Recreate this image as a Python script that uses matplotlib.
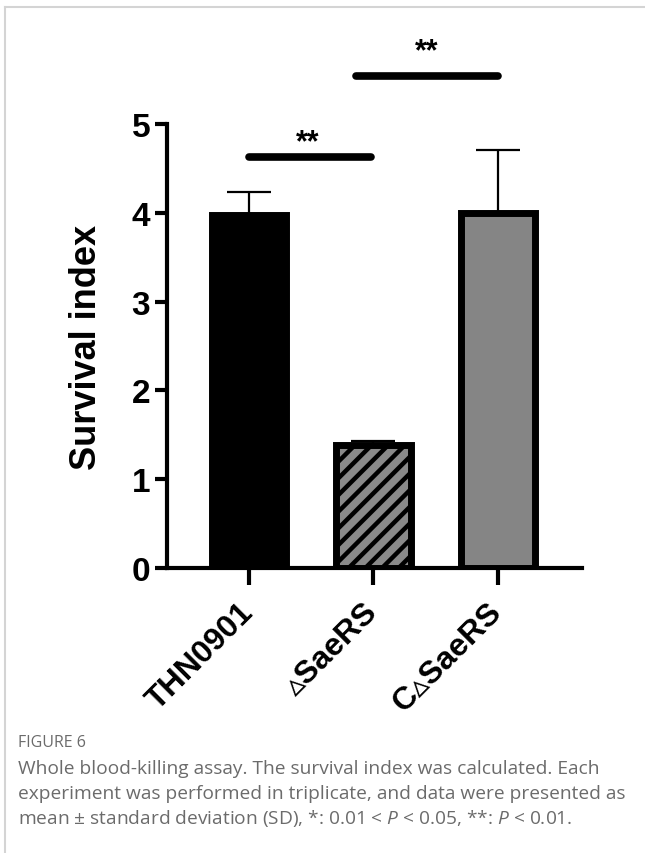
"""
Whole blood-killing assay: survival index bar chart with caption.
"""

import matplotlib
matplotlib.use('Agg')
import matplotlib.pyplot as plt
from matplotlib.lines import Line2D


strains = ['THN0901', '▵SaeRS', 'C▵SaeRS']
survival = [3.97, 1.39, 4.00]
survival_sd = [0.26, 0.04, 0.71]
fill_colors = ['black', '#8a8a8a', '#858585']
hatches = ['', '//', '']

# significance brackets
sig_x0 = [0.0, 0.86]
sig_x1 = [0.98, 2.0]
sig_y = [4.63, 5.54]
star_x = [0.47, 1.43]
star_y = [4.80, 5.82]
sig_text = ['**', '**']

caption_head = 'FIGURE 6'
caption_lines = [
    'Whole blood-killing assay. The survival index was calculated. Each',
    'experiment was performed in triplicate, and data were presented as',
    'mean ± standard deviation (SD), *: 0.01 < $P$ < 0.05, **: $P$ < 0.01.',
]

plt.rcParams['font.family'] = ['Liberation Sans', 'DejaVu Sans']
plt.rcParams['hatch.linewidth'] = 3.2
plt.rcParams['mathtext.fontset'] = 'custom'
plt.rcParams['mathtext.it'] = 'Open Sans:italic'
plt.rcParams['mathtext.rm'] = 'Open Sans'

fig = plt.figure(figsize=(6.45, 8.54), dpi=100)
ax = fig.add_axes([0.2589, 0.3337, 0.6434, 0.5199])

x = list(range(len(strains)))
ax.errorbar(x, survival, yerr=[[0] * len(x), survival_sd], fmt='none',
            ecolor='black', elinewidth=1.6, capsize=16, capthick=1.6, zorder=1)
for i in x:
    ax.bar(i, survival[i], width=0.6, color=fill_colors[i], edgecolor='black',
           linewidth=5, hatch=hatches[i], zorder=2)

for x0, x1, y in zip(sig_x0, sig_x1, sig_y):
    ax.plot([x0, x1], [y, y], color='black', lw=5.5, solid_capstyle='round', clip_on=False)
for sx, sy, t in zip(star_x, star_y, sig_text):
    ax.text(sx, sy, t, ha='center', va='center', fontsize=22, fontweight='bold', clip_on=False)

ax.set_xlim(-0.659, 2.675)
ax.set_ylim(0, 5)
ax.set_yticks([0, 1, 2, 3, 4, 5])
ax.set_xticks(x)
ax.set_xticklabels(strains, rotation=45, ha='right', va='center', rotation_mode='anchor',
                   fontsize=23, fontweight='bold')
for lbl in ax.get_yticklabels():
    lbl.set_fontsize(24)
    lbl.set_fontweight('bold')
ax.set_ylabel('Survival index', fontsize=26, fontweight='bold', labelpad=20)

for side in ['top', 'right']:
    ax.spines[side].set_visible(False)
for side in ['left', 'bottom']:
    ax.spines[side].set_linewidth(3)
ax.tick_params(axis='y', length=9, width=3, pad=3)
ax.tick_params(axis='x', length=12, width=3, pad=16)

# card border of the figure page
fig.add_artist(Line2D([0.008, 1.0], [0.9906, 0.9906], color='#d4d4d4', lw=1.5))
fig.add_artist(Line2D([0.008, 0.008], [0.0, 0.9906], color='#d4d4d4', lw=1.5))

fig.text(0.028, 1 - 743 / 854, caption_head, fontsize=11.5, color='#6b6b6b',
         family='Open Sans', va='center')
for k, line in enumerate(caption_lines):
    fig.text(0.028, 1 - (769 + k * 25) / 854, line, fontsize=13.8, color='#6b6b6b',
             family='Open Sans', va='center')

plt.savefig('out.png', dpi=100)
